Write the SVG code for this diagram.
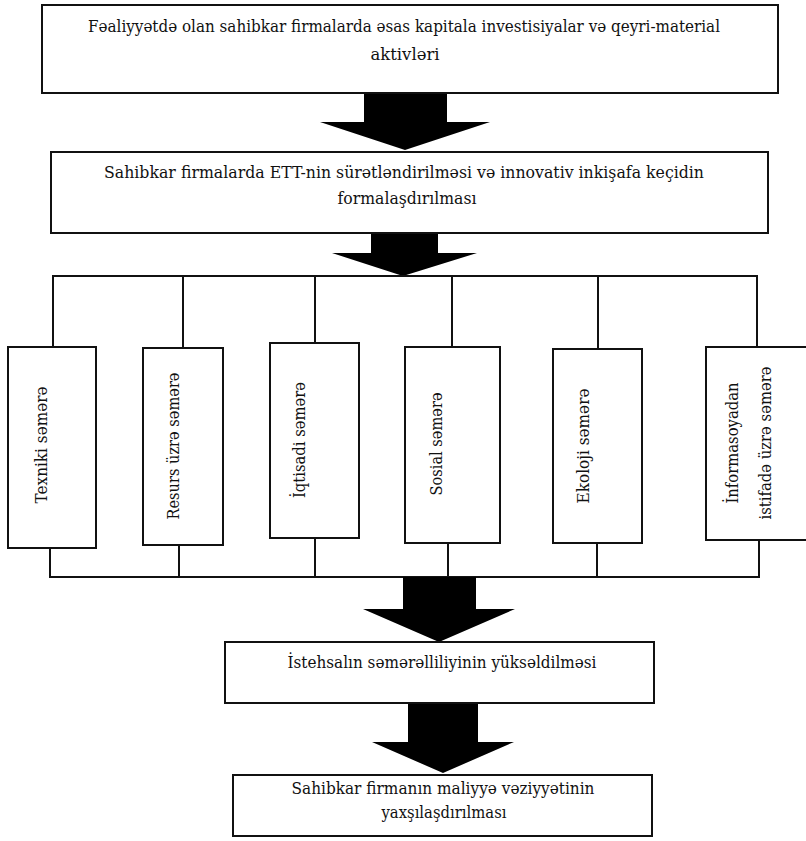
<svg xmlns="http://www.w3.org/2000/svg" width="806" height="841" viewBox="0 0 806 841">
<style>
  .box { fill: #ffffff; stroke: #111111; stroke-width: 2; }
  .ln { fill: none; stroke: #111111; stroke-width: 2; }
  .arr { fill: #000000; stroke: none; }
  text { font-family: "DejaVu Serif", "Liberation Serif", serif; font-size: 17px; fill: #111111; }
  .c { text-anchor: middle; }
</style>
<rect width="806" height="841" fill="#ffffff"/>
<g id="connectors">
  <polygon class="arr" points="364,93 447,93 447,122 490,122 405,150 320,122 364,122"/>
  <polygon class="arr" points="371,233 438,233 438,253 477,253 403,276 332,253 371,253"/>
  <polyline class="ln" points="53,347 53,276 757,276 757,347"/>
  <line class="ln" x1="183" y1="276" x2="183" y2="348"/>
  <line class="ln" x1="315" y1="276" x2="315" y2="343"/>
  <line class="ln" x1="452" y1="276" x2="452" y2="347"/>
  <line class="ln" x1="598" y1="276" x2="598" y2="349"/>
  <polyline class="ln" points="50,548 50,577 759,577 759,540"/>
  <line class="ln" x1="179" y1="545" x2="179" y2="577"/>
  <line class="ln" x1="315" y1="538" x2="315" y2="577"/>
  <line class="ln" x1="448" y1="543" x2="448" y2="577"/>
  <line class="ln" x1="597" y1="543" x2="597" y2="577"/>
  <polygon class="arr" points="403,577 476,577 476,609 515,609 439,642 363,609 403,609"/>
  <polygon class="arr" points="408,703 478,703 478,742 514,742 443,773 372,742 408,742"/>
</g>
<g id="n1">
  <rect class="box" x="42" y="5" width="736" height="88"/>
  <text class="c" x="404" y="32" textLength="632" lengthAdjust="spacingAndGlyphs">Fəaliyyətdə olan sahibkar firmalarda əsas kapitala investisiyalar və qeyri-material</text>
  <text class="c" x="405" y="60" textLength="69" lengthAdjust="spacingAndGlyphs">aktivləri</text>
</g>
<g id="n2">
  <rect class="box" x="51" y="152" width="717" height="81"/>
  <text class="c" x="404" y="178" textLength="600" lengthAdjust="spacingAndGlyphs">Sahibkar firmalarda ETT-nin sürətləndirilməsi və innovativ inkişafa keçidin</text>
  <text class="c" x="407" y="204" textLength="139" lengthAdjust="spacingAndGlyphs">formalaşdırılması</text>
</g>
<g id="texniki">
  <rect class="box" x="8" y="347" width="88" height="201"/>
  <text class="c" transform="translate(47,445) rotate(-90)" textLength="117" lengthAdjust="spacingAndGlyphs">Texniki səmərə</text>
</g>
<g id="resurs">
  <rect class="box" x="143" y="348" width="80" height="197"/>
  <text class="c" transform="translate(179,446) rotate(-90)" textLength="147" lengthAdjust="spacingAndGlyphs">Resurs üzrə səmərə</text>
</g>
<g id="iqtisadi">
  <rect class="box" x="270" y="343" width="89" height="195"/>
  <text class="c" transform="translate(305,440) rotate(-90)" textLength="116" lengthAdjust="spacingAndGlyphs">İqtisadi səmərə</text>
</g>
<g id="sosial">
  <rect class="box" x="405" y="347" width="95" height="196"/>
  <text class="c" transform="translate(442,444) rotate(-90)" textLength="103" lengthAdjust="spacingAndGlyphs">Sosial səmərə</text>
</g>
<g id="ekoloji">
  <rect class="box" x="553" y="349" width="89" height="194"/>
  <text class="c" transform="translate(589,446) rotate(-90)" textLength="115" lengthAdjust="spacingAndGlyphs">Ekoloji səmərə</text>
</g>
<g id="informasiya">
  <rect class="box" x="706" y="347" width="102" height="193"/>
  <text class="c" transform="translate(738,443) rotate(-90)" textLength="121" lengthAdjust="spacingAndGlyphs">İnformasoyadan</text>
  <text class="c" transform="translate(771,443) rotate(-90)" textLength="153" lengthAdjust="spacingAndGlyphs">istifadə üzrə səmərə</text>
</g>
<g id="n3">
  <rect class="box" x="225" y="642" width="429" height="61"/>
  <text class="c" x="442" y="668" textLength="309" lengthAdjust="spacingAndGlyphs">İstehsalın səmərəlliliyinin yüksəldilməsi</text>
</g>
<g id="n4">
  <rect class="box" x="233" y="775" width="419" height="61"/>
  <text class="c" x="443" y="794" textLength="303" lengthAdjust="spacingAndGlyphs">Sahibkar firmanın maliyyə vəziyyətinin</text>
  <text class="c" x="444" y="818" textLength="125" lengthAdjust="spacingAndGlyphs">yaxşılaşdırılması</text>
</g>
</svg>
